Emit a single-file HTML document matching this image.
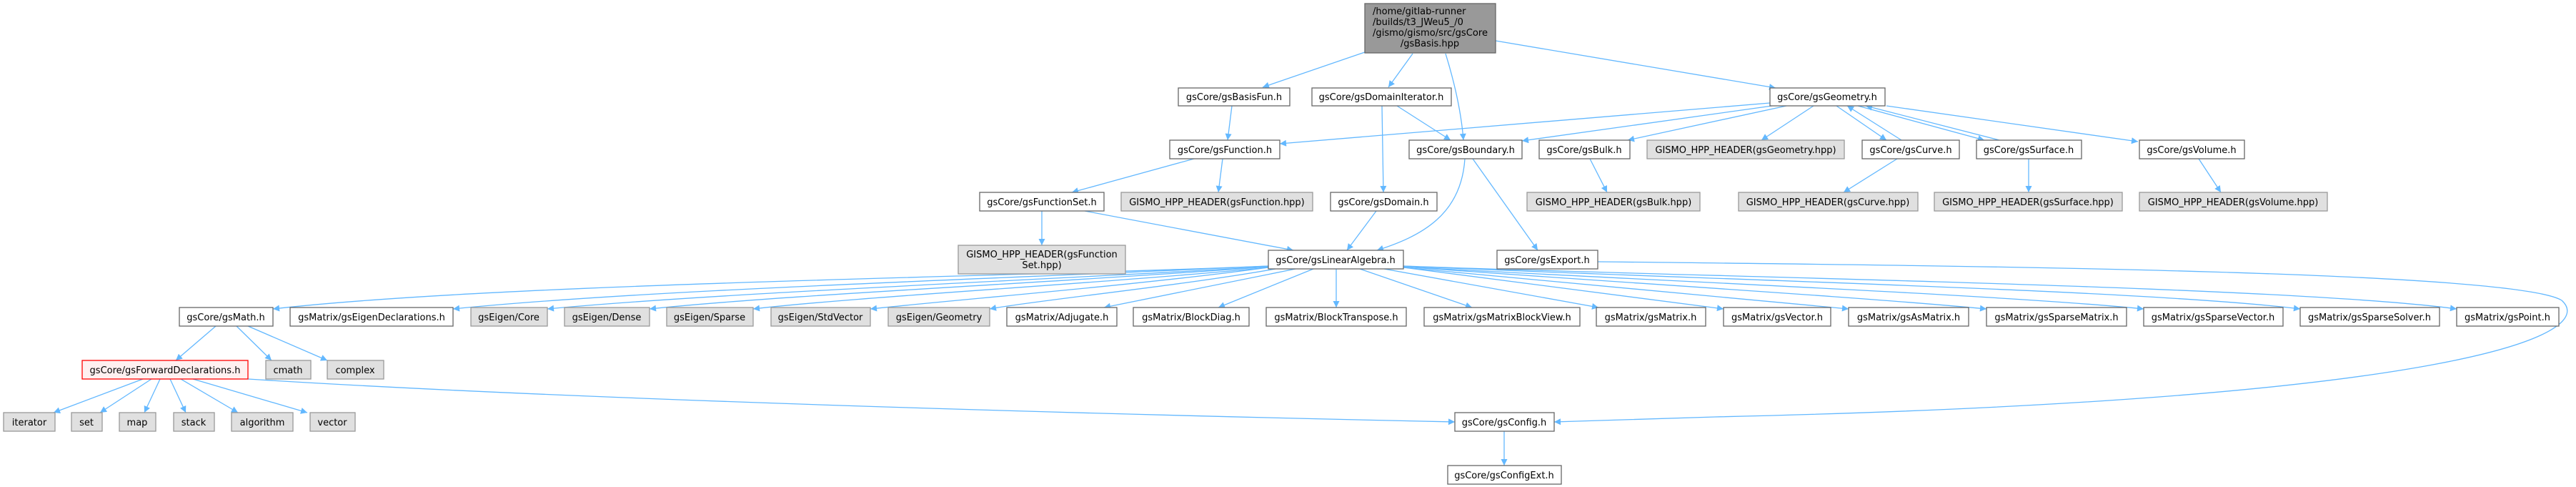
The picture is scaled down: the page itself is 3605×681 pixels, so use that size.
<!DOCTYPE html>
<html><head><meta charset="utf-8"><style>
html,body{margin:0;padding:0;background:#fff;}
svg{display:block;}
text{font-family:"DejaVu Sans","Liberation Sans",sans-serif;font-size:13px;fill:#000;}
.w{fill:#fff;stroke:#666;stroke-width:1.3;}
.g{fill:#e0e0e0;stroke:#999;stroke-width:1.3;}
.e{fill:none;stroke:#63b8ff;stroke-width:1.3;}
</style></head><body>
<svg width="3605" height="681" viewBox="0 0 3605 681" xmlns="http://www.w3.org/2000/svg">
<defs><marker id="a" viewBox="0 0 10 10" refX="10" refY="5" markerWidth="11" markerHeight="9" markerUnits="userSpaceOnUse" orient="auto"><path d="M0,0 L10,5 L0,10 z" fill="#63b8ff"/></marker></defs>
<g marker-end="url(#a)" class="e">
<path class="e" d="M1910 73 L1767 122"/>
<path class="e" d="M1977 75 L1943 122"/>
<path class="e" d="M2023 75 C2040 130 2046 170 2048 196"/>
<path class="e" d="M2093 57 L2485 123"/>
<path class="e" d="M1724 148 L1718 196"/>
<path class="e" d="M1955 148 L2030 196"/>
<path class="e" d="M1934 148 L1936 269"/>
<path class="e" d="M2477 144 L1791 201"/>
<path class="e" d="M2480 148 L2130 197"/>
<path class="e" d="M2500 148 L2278 196"/>
<path class="e" d="M2538 148 L2465 196"/>
<path class="e" d="M2570 148 L2640 196"/>
<path class="e" d="M2661 196 L2585 148"/>
<path class="e" d="M2600 148 L2777 196"/>
<path class="e" d="M2798 196 L2611 148"/>
<path class="e" d="M2640 148 L2992 198"/>
<path class="e" d="M2655 222 L2580 269"/>
<path class="e" d="M2839 222 L2839 269"/>
<path class="e" d="M3077 222 L3108 269"/>
<path class="e" d="M2225 222 L2249 269"/>
<path class="e" d="M1671 222 L1500 269"/>
<path class="e" d="M1711 222 L1705 269"/>
<path class="e" d="M1458 295 L1458 343"/>
<path class="e" d="M1518 295 L1810 350"/>
<path class="e" d="M1926 295 L1885 350"/>
<path class="e" d="M2050 222 C2045 300 1990 330 1927 350"/>
<path class="e" d="M2061 222 L2152 350"/>
<path class="e" d="M2236 366 C2800 372 3520 380 3585 420 C3640 470 3420 560 2400 583 L2175 590"/>
<path class="e" d="M1775 372 C1400 388 700 396 382 432"/>
<path class="e" d="M1775 372 C1400 390 900 405 634 432"/>
<path class="e" d="M1775 373 C1450 392 1000 410 766 432"/>
<path class="e" d="M1775 373 C1500 394 1100 412 909 432"/>
<path class="e" d="M1775 374 C1550 396 1200 415 1054 432"/>
<path class="e" d="M1775 374 C1600 398 1350 418 1218 432"/>
<path class="e" d="M1785 376 C1650 400 1450 420 1385 432"/>
<path class="e" d="M1813 376 L1545 430"/>
<path class="e" d="M1838 376 L1705 430"/>
<path class="e" d="M1870 376 L1870 430"/>
<path class="e" d="M1903 376 L2060 430"/>
<path class="e" d="M1937 376 L2237 430"/>
<path class="e" d="M1964 374 C2150 398 2330 420 2412 432"/>
<path class="e" d="M1964 374 C2200 396 2450 418 2587 432"/>
<path class="e" d="M1964 373 C2250 394 2600 415 2780 432"/>
<path class="e" d="M1964 373 C2300 392 2800 412 3000 432"/>
<path class="e" d="M1964 372 C2350 390 3000 405 3219 432"/>
<path class="e" d="M1964 372 C2400 388 3200 400 3438 432"/>
<path class="e" d="M302 456 L246 504"/>
<path class="e" d="M331 456 L380 504"/>
<path class="e" d="M347 456 L458 504"/>
<path class="e" d="M200 530 L75 577"/>
<path class="e" d="M212 530 L140 577"/>
<path class="e" d="M224 530 L202 577"/>
<path class="e" d="M238 530 L260 577"/>
<path class="e" d="M253 530 L333 577"/>
<path class="e" d="M270 530 L430 577"/>
<path class="e" d="M347 530 C900 565 1800 585 2036 590"/>
<path class="e" d="M2105 603 L2105 651"/>
</g>

<rect x="1910" y="5" width="183" height="69" fill="#999" stroke="#666" stroke-width="1.3"/>
<text x="1921" y="20">/home/gitlab-runner</text>
<text x="1921" y="35">/builds/t3_JWeu5_/0</text>
<text x="1921" y="50" textLength="161" lengthAdjust="spacingAndGlyphs">/gismo/gismo/src/gsCore</text>
<text x="2001" y="65" text-anchor="middle">/gsBasis.hpp</text>

<g text-anchor="middle">
<rect class="w" x="1649" y="123" width="156" height="25"/><text x="1727" y="140">gsCore/gsBasisFun.h</text>
<rect class="w" x="1836" y="123" width="195" height="25"/><text x="1933" y="140">gsCore/gsDomainIterator.h</text>
<rect class="w" x="2477" y="123" width="161" height="25"/><text x="2557" y="140">gsCore/gsGeometry.h</text>

<rect class="w" x="1637" y="196" width="154" height="26"/><text x="1714" y="214">gsCore/gsFunction.h</text>
<rect class="w" x="1972" y="196" width="158" height="26"/><text x="2051" y="214">gsCore/gsBoundary.h</text>
<rect class="w" x="2154" y="196" width="127" height="26"/><text x="2217" y="214">gsCore/gsBulk.h</text>
<rect class="g" x="2305" y="196" width="276" height="26"/><text x="2443" y="214">GISMO_HPP_HEADER(gsGeometry.hpp)</text>
<rect class="w" x="2606" y="196" width="136" height="26"/><text x="2674" y="214">gsCore/gsCurve.h</text>
<rect class="w" x="2766" y="196" width="147" height="26"/><text x="2839" y="214">gsCore/gsSurface.h</text>
<rect class="w" x="2994" y="196" width="147" height="26"/><text x="3067" y="214">gsCore/gsVolume.h</text>

<rect class="w" x="1371" y="269" width="174" height="26"/><text x="1458" y="287">gsCore/gsFunctionSet.h</text>
<rect class="g" x="1569" y="269" width="268" height="26"/><text x="1703" y="287">GISMO_HPP_HEADER(gsFunction.hpp)</text>
<rect class="w" x="1862" y="269" width="149" height="26"/><text x="1936" y="287">gsCore/gsDomain.h</text>
<rect class="g" x="2137" y="269" width="242" height="26"/><text x="2258" y="287">GISMO_HPP_HEADER(gsBulk.hpp)</text>
<rect class="g" x="2433" y="269" width="251" height="26"/><text x="2558" y="287">GISMO_HPP_HEADER(gsCurve.hpp)</text>
<rect class="g" x="2707" y="269" width="263" height="26"/><text x="2838" y="287">GISMO_HPP_HEADER(gsSurface.hpp)</text>
<rect class="g" x="2994" y="269" width="263" height="26"/><text x="3125" y="287">GISMO_HPP_HEADER(gsVolume.hpp)</text>

<rect class="g" x="1341" y="343" width="234" height="40"/><text x="1458" y="360">GISMO_HPP_HEADER(gsFunction</text><text x="1458" y="375">Set.hpp)</text>
<rect class="w" x="1775" y="350" width="189" height="26"/><text x="1869" y="368">gsCore/gsLinearAlgebra.h</text>
<rect class="w" x="2095" y="350" width="141" height="26"/><text x="2165" y="368">gsCore/gsExport.h</text>

<rect class="w" x="251" y="430" width="131" height="26"/><text x="316" y="448">gsCore/gsMath.h</text>
<rect class="w" x="406" y="430" width="228" height="26"/><text x="520" y="448">gsMatrix/gsEigenDeclarations.h</text>
<rect class="g" x="659" y="430" width="107" height="26"/><text x="712" y="448">gsEigen/Core</text>
<rect class="g" x="790" y="430" width="119" height="26"/><text x="849" y="448">gsEigen/Dense</text>
<rect class="g" x="933" y="430" width="121" height="26"/><text x="993" y="448">gsEigen/Sparse</text>
<rect class="g" x="1079" y="430" width="139" height="26"/><text x="1148" y="448">gsEigen/StdVector</text>
<rect class="g" x="1243" y="430" width="142" height="26"/><text x="1314" y="448">gsEigen/Geometry</text>
<rect class="w" x="1409" y="430" width="154" height="26"/><text x="1486" y="448">gsMatrix/Adjugate.h</text>
<rect class="w" x="1586" y="430" width="162" height="26"/><text x="1667" y="448">gsMatrix/BlockDiag.h</text>
<rect class="w" x="1772" y="430" width="196" height="26"/><text x="1870" y="448">gsMatrix/BlockTranspose.h</text>
<rect class="w" x="1993" y="430" width="218" height="26"/><text x="2102" y="448">gsMatrix/gsMatrixBlockView.h</text>
<rect class="w" x="2234" y="430" width="153" height="26"/><text x="2310" y="448">gsMatrix/gsMatrix.h</text>
<rect class="w" x="2412" y="430" width="150" height="26"/><text x="2487" y="448">gsMatrix/gsVector.h</text>
<rect class="w" x="2587" y="430" width="168" height="26"/><text x="2671" y="448">gsMatrix/gsAsMatrix.h</text>
<rect class="w" x="2780" y="430" width="196" height="26"/><text x="2878" y="448">gsMatrix/gsSparseMatrix.h</text>
<rect class="w" x="3000" y="430" width="195" height="26"/><text x="3097" y="448">gsMatrix/gsSparseVector.h</text>
<rect class="w" x="3219" y="430" width="195" height="26"/><text x="3316" y="448">gsMatrix/gsSparseSolver.h</text>
<rect class="w" x="3438" y="430" width="143" height="26"/><text x="3509" y="448">gsMatrix/gsPoint.h</text>

<rect x="115" y="504" width="232" height="26" fill="#fff0f0" stroke="#f00" stroke-width="1.3"/><text x="231" y="522">gsCore/gsForwardDeclarations.h</text>
<rect class="g" x="372" y="504" width="63" height="26"/><text x="403" y="522">cmath</text>
<rect class="g" x="458" y="504" width="79" height="26"/><text x="497" y="522">complex</text>

<rect class="g" x="5" y="577" width="72" height="26"/><text x="41" y="595">iterator</text>
<rect class="g" x="100" y="577" width="43" height="26"/><text x="121" y="595">set</text>
<rect class="g" x="167" y="577" width="51" height="26"/><text x="192" y="595">map</text>
<rect class="g" x="243" y="577" width="57" height="26"/><text x="271" y="595">stack</text>
<rect class="g" x="324" y="577" width="86" height="26"/><text x="367" y="595">algorithm</text>
<rect class="g" x="434" y="577" width="63" height="26"/><text x="465" y="595">vector</text>
<rect class="w" x="2036" y="577" width="139" height="26"/><text x="2105" y="595">gsCore/gsConfig.h</text>
<rect class="w" x="2026" y="651" width="159" height="26"/><text x="2105" y="669">gsCore/gsConfigExt.h</text>
</g>
</svg>
</body></html>
